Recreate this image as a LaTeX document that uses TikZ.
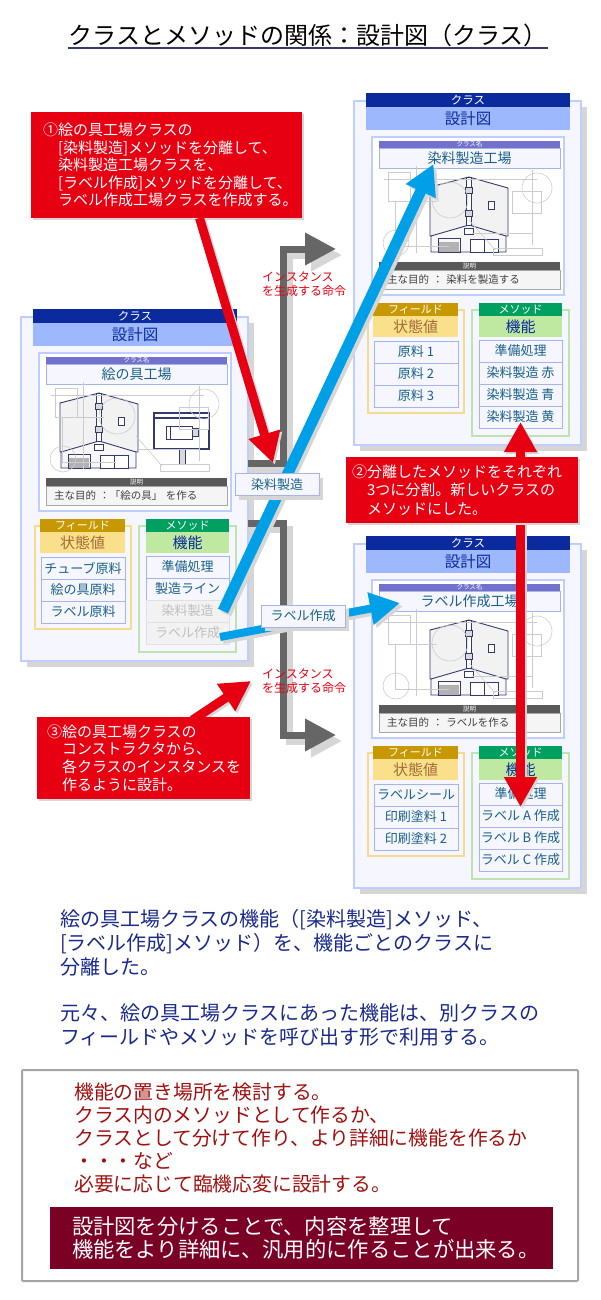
\documentclass[tikz,border=0pt]{standalone}
\usepackage{fontspec}
\setmainfont{Noto Sans CJK JP}
\usetikzlibrary{arrows.meta,shadows}

\definecolor{headblue}{HTML}{0B2A9E}
\definecolor{bandblue}{HTML}{9DB8FC}
\definecolor{panelfill}{HTML}{F5F6FF}
\definecolor{paneledge}{HTML}{C0CEFF}
\definecolor{tagpurple}{HTML}{7272CC}
\definecolor{rowedge}{HTML}{A6B4E8}
\definecolor{rowtext}{HTML}{1A6088}
\definecolor{castgray}{HTML}{D6D6D6}
\definecolor{fieldhead}{HTML}{C79800}
\definecolor{fieldband}{HTML}{FBE08C}
\definecolor{fieldedge}{HTML}{F3DC8C}
\definecolor{methodhead}{HTML}{00A060}
\definecolor{methodband}{HTML}{BFE8A0}
\definecolor{methodedge}{HTML}{BFE3AE}
\definecolor{notered}{HTML}{E60012}
\definecolor{arrowblue}{HTML}{00A0E9}
\definecolor{gatearrow}{HTML}{666666}
\definecolor{housenavy}{HTML}{333A70}
\definecolor{wineband}{HTML}{7A0026}
\definecolor{bodynavy}{HTML}{1A2A8C}
\definecolor{memored}{HTML}{A01010}

\newcommand{\fsize}[1]{\fontsize{#1}{#1}\selectfont}

\tikzset{
  cast/.style={drop shadow={shadow xshift=#1,shadow yshift=-#1,fill=castgray,opacity=1}},
  bar/.style={inner sep=0pt,outer sep=0pt,minimum height=#1},
  classpanel/.style={bar=344pt,minimum width=227pt,fill=panelfill,draw=paneledge,line width=1.5pt,cast=6pt},
  classhead/.style={bar=14pt,minimum width=204pt,fill=headblue,text=white,font=\fsize{11.5}},
  classband/.style={bar=23pt,minimum width=204pt,fill=bandblue,text=headblue,font=\fsize{15.5}},
  innerpanel/.style={bar=158pt,minimum width=192pt,fill=white,draw=paneledge,line width=1.2pt},
  nametag/.style={bar=7pt,minimum width=181pt,fill=tagpurple,text=white,font=\fsize{6.5}},
  namebox/.style={bar=20pt,minimum width=181pt,fill=panelfill,draw=rowedge,text=rowtext,font=\fsize{14}},
  desctag/.style={bar=8pt,minimum width=181pt,fill=black!65,text=white,font=\fsize{6.5}},
  descbox/.style={bar=19pt,inner xsep=8pt,text width=165pt,align=left,fill=black!4,draw=black!35,
    text=black!75,font=\fsize{10.5}},
  fieldpanel/.style={bar=103pt,minimum width=96pt,fill=panelfill,draw=fieldedge,line width=1.2pt},
  methodpanel/.style={bar=126pt,minimum width=97pt,fill=panelfill,draw=methodedge,line width=1.2pt},
  fieldcap/.style={bar=13pt,minimum width=85pt,fill=fieldhead,text=white,font=\fsize{11}},
  fieldname/.style={bar=21pt,minimum width=85pt,fill=fieldband,text=brown!85!black,font=\fsize{15}},
  methodcap/.style={bar=13pt,minimum width=83pt,fill=methodhead,text=white,font=\fsize{11}},
  methodname/.style={bar=21pt,minimum width=83pt,fill=methodband,text=headblue,font=\fsize{15}},
  rowbox/.style={bar=22pt,minimum width=83pt,fill=panelfill,draw=rowedge,text=rowtext,font=\fsize{13}},
  fadedrow/.style={rowbox,fill=black!5,draw=black!12,text=black!25},
  notebox/.style={fill=notered,text=white,align=left,inner sep=0pt,outer sep=0pt,cast=2pt,
    text width=#1},
  tagbox/.style={bar=22pt,minimum width=84pt,fill=panelfill,draw=rowedge,text=rowtext,font=\fsize{13},cast=4pt},
  redlabel/.style={inner sep=0pt,align=left,anchor=north west,text=notered,font=\fontsize{12}{14}\selectfont},
  gateline/.style={draw=gatearrow,line width=7pt,-{Triangle[length=31pt,width=31pt]}},
  blueline/.style={draw=arrowblue,line width=#1,-{Triangle[length=30pt,width=31pt]}},
  redline/.style={draw=notered,line width=#1,-{Triangle[length=30pt,width=31pt]}},
  drop/.style={draw=castgray,color=castgray,transform canvas={shift={(#1,#1)}}},
  sketch/.style={draw=black!20,line width=0.6pt},
  houseline/.style={draw=housenavy,line width=0.9pt},
}

%% an arrow and the grey copy of it that lies behind
\newcommand{\castarrow}[3]{%
  \draw[#1,drop=#2] #3;
  \draw[#1] #3;
}

%% faint construction lines of the drawing
\newcommand{\sketchlines}{%
  \draw[sketch] (12,14) -- (165,14);
  \draw[sketch] (16,7) rectangle (38,36);
  \draw[sketch] (23,36) -- (23,81) -- (77,81);
  \draw[sketch] (23,36) -- (65,36);
  \draw[sketch] (44,1) -- (44,88);
  \draw[sketch] (78,35) circle (18);
  \draw[sketch] (165,23) circle (15);
  \draw[sketch] (140,26) rectangle (169,48);
  \draw[sketch] (160,5) -- (160,80);
  \draw[sketch] (100,68) -- (160,68);
  \draw[sketch] (121,83) rectangle (170,90);
  \draw[sketch] (97,55) -- (123,85);
  \draw[sketch] (24,78) circle (13);
}

%% #1 is how far the house stands from its usual place
\newcommand{\housedrawing}[1]{%
  \begin{scope}[shift={(#1,0)}]
    \draw[houseline,fill=black!5] (58,22) -- (97,12) -- (136,23) -- (136,71) -- (58,71) -- cycle;
    \draw[houseline,fill=black!3] (59,71) -- (59,87) -- (134,87) -- (134,71) -- (97,60) -- cycle;
    \fill[black!30] (67,77) rectangle (87,87);
    \draw[houseline] (66,73) rectangle (88,87);
    \draw[houseline,fill=white] (98,74) rectangle (126,87);
    \draw[houseline] (112,74) -- (112,87);
    \draw[houseline,fill=white] (94,12) rectangle (99,60);
    \draw[houseline,fill=black!15] (93,22) rectangle (100,28);
    \draw[houseline,fill=black!15] (93,45) rectangle (100,51);
    \draw[houseline,fill=white] (116,36) rectangle (122,44);
    \draw[houseline,fill=white] (92,63) rectangle (101,69);
  \end{scope}
}

\newcommand{\signdrawing}{%
  \draw[houseline,fill=white,line width=1.1pt] (115,32) rectangle (170,68);
  \draw[houseline,line width=1.1pt] (115,37) -- (170,37);
  \draw[houseline,fill=white] (127,45) rectangle (153,58);
  \draw[houseline] (131,45) -- (131,58);
  \draw[houseline,fill=black!15] (153,47) rectangle (159,55);
  \draw[houseline,fill=black!15] (140,68) rectangle (146,83);
}

%% #1 name prefix, #2 corner of the head band, #3 class name, #4 purpose,
%% #5 fields, #6 methods with their row style, #7 what the drawing holds
\newcommand{\classcard}[7]{%
  \begin{scope}[shift={(#2)}]
    \node[classpanel] (#1panel) at (101.5,180) {};
    \node[classhead] (#1head) at (102,7) {クラス};
    \node[classband] (#1band) at (102,25.5) {設計図};
    \node[innerpanel] (#1inner) at (102,123) {};
    \node[nametag] (#1tag) at (103.5,51.5) {クラス名};
    \node[namebox] (#1name) at (103.5,65) {#3};
    \node[desctag] (#1desctag) at (103.5,173) {説明};
    \node[descbox] (#1desc) at (103.5,186.5) {#4};
    \begin{scope}[shift={(6,72)}]
      #7
      \sketchlines
    \end{scope}
    \node[fieldpanel] (#1fields) at (50,268.5) {};
    \node[methodpanel] (#1methods) at (154.5,280) {};
    \node[fieldcap] (#1fieldcap) at (49.5,216.5) {フィールド};
    \node[fieldname] (#1fieldname) at (49.5,233.5) {状態値};
    \node[methodcap] (#1methodcap) at (154.5,216.5) {メソッド};
    \node[methodname] (#1methodname) at (154.5,233.5) {機能};
    \foreach \txt [count=\i] in {#5}
      \node[rowbox,minimum width=84pt] (#1f\i) at ({50},{237+22*\i}) {\txt};
    \foreach \txt/\kind [count=\i] in {#6}
      \node[\kind] (#1m\i) at ({154.5},{236+22*\i}) {\txt};
  \end{scope}
}

\begin{document}
\begin{tikzpicture}[x=1pt,y=-1pt]

  \useasboundingbox (0,0) rectangle (600,1300);
  \fill[white] (0,0) rectangle (600,1300);

  \node[inner sep=0pt,font=\fsize{24}] (title) at (308,35) {クラスとメソッドの関係：設計図（クラス）};
  \draw[housenavy,line width=1.2pt] (title.west |- 0,48) -- (title.east |- 0,48);

  \classcard{dye}{366,93}{染料製造工場}{主な目的 ： 染料を製造する}
    {原料 1,原料 2,原料 3}
    {準備処理/rowbox,染料製造 赤/rowbox,染料製造 青/rowbox,染料製造 黄/rowbox}
    {\housedrawing{0}}
  \classcard{seal}{366,536}{ラベル作成工場}{主な目的 ： ラベルを作る}
    {ラベルシール,印刷塗料 1,印刷塗料 2}
    {準備処理/rowbox,ラベル A 作成/rowbox,ラベル B 作成/rowbox,ラベル C 作成/rowbox}
    {\housedrawing{0}}
  \classcard{paint}{33,309}{絵の具工場}{主な目的 ：「絵の具」 を作る}
    {チューブ原料,絵の具原料,ラベル原料}
    {準備処理/rowbox,製造ライン/rowbox,染料製造/fadedrow,ラベル作成/fadedrow}
    {\housedrawing{-37}\signdrawing}

  %% instance arrows
  \coordinate (upperbend) at (283.5,249);
  \coordinate (uppertip) at (336,249);
  \coordinate (lowerbend) at (283.5,735);
  \coordinate (lowertip) at (336,735);
  \castarrow{gateline}{6}{([yshift=26pt]paintpanel.east) -| (upperbend) -- (uppertip)}
  \castarrow{gateline}{6}{([yshift=-34pt]paintpanel.east) -| (lowerbend) -- (lowertip)}
  \node[redlabel] (upperlabel) at (262,272) {インスタンス\\を生成する命令};
  \node[redlabel] (lowerlabel) at (262,669) {インスタンス\\を生成する命令};

  %% moved methods
  \castarrow{blueline=11pt}{3}{([xshift=-6pt]paintm3.east) -- ([xshift=-36pt,yshift=4pt]dyename.south)}
  \castarrow{blueline=8pt}{3}{([xshift=-9pt,yshift=-4pt]paintm4.east) -- ([xshift=21pt,yshift=-2pt]sealname.west)}
  \node[tagbox] (dyetag) at (277,484.5) {染料製造};
  \node[tagbox] (sealtag) at (303,616) {ラベル作成};

  %% notes
  \node[notebox=271pt,minimum height=106pt,font=\fontsize{15}{17.5}\selectfont] (firstnote) at (166.5,165)
    {\hspace*{12pt}①絵の具工場クラスの\\\hspace*{27pt}[染料製造]メソッドを分離して、\\\hspace*{27pt}染料製造工場クラスを、\\\hspace*{27pt}[ラベル作成]メソッドを分離して、\\\hspace*{27pt}ラベル作成工場クラスを作成する。};
  \coordinate (firsttip) at (273,463);
  \castarrow{redline=9pt}{2}{([xshift=33pt]firstnote.south) -- (firsttip)}

  \castarrow{redline=8.5pt}{2}{(dyem4 |- 0,490) -- ([yshift=-5pt]dyem4.center)}
  \castarrow{redline=8.5pt}{2}{(sealm2 |- 0,490) -- ([yshift=-2pt]sealm2.north)}
  \node[notebox=232pt,minimum height=66pt,font=\fontsize{15}{18.3}\selectfont] (secondnote) at (462,490)
    {\hspace*{6pt}②分離したメソッドをそれぞれ\\\hspace*{21pt}3つに分割。新しいクラスの\\\hspace*{21pt}メソッドにした。};

  \coordinate (thirdtip) at (251,681);
  \castarrow{redline=9pt}{2}{(192.5,720) -- (thirdtip)}
  \node[notebox=213pt,minimum height=82pt,font=\fontsize{15}{17.7}\selectfont] (thirdnote) at (143.5,758)
    {\hspace*{10pt}③絵の具工場クラスの\\\hspace*{25pt}コンストラクタから、\\\hspace*{25pt}各クラスのインスタンスを\\\hspace*{25pt}作るように設計。};

  %% closing text
  \node[inner sep=0pt,anchor=north west,align=left,text=bodynavy,
    font=\fontsize{20}{24}\selectfont] (aboutsplit) at (60,909)
    {絵の具工場クラスの機能（[染料製造]メソッド、\\{[}ラベル作成]メソッド）を、機能ごとのクラスに\\分離した。};
  \node[inner sep=0pt,anchor=north west,align=left,text=bodynavy,
    font=\fontsize{20}{24}\selectfont] (aboutuse) at (60,1003)
    {元々、絵の具工場クラスにあった機能は、別クラスの\\フィールドやメソッドを呼び出す形で利用する。};
  \node[draw=black!35,line width=2pt,fill=white,rounded corners=1pt,minimum width=556pt,
    minimum height=211pt,inner sep=0pt] (memoframe) at (300,1175.5) {};
  \node[inner sep=0pt,anchor=north west,align=left,text=memored,
    font=\fontsize{19.8}{23}\selectfont] (memotext) at (74,1083)
    {機能の置き場所を検討する。\\クラス内のメソッドとして作るか、\\クラスとして分けて作り、より詳細に機能を作るか\\・・・など\\必要に応じて臨機応変に設計する。};
  \node[fill=wineband,text=white,align=left,inner sep=0pt,text width=503pt,minimum height=62pt,
    font=\fontsize{21.3}{23.5}\selectfont] (wineband) at (301.5,1238)
    {\hspace*{22pt}設計図を分けることで、内容を整理して\\\hspace*{22pt}機能をより詳細に、汎用的に作ることが出来る。};

\end{tikzpicture}
\end{document}
